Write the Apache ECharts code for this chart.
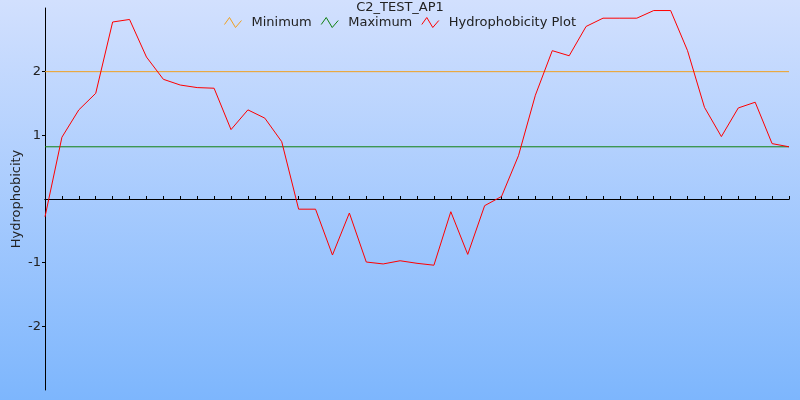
<!DOCTYPE html>
<html>
<head>
<meta charset="utf-8">
<script src="https://cdn.jsdelivr.net/npm/echarts@6/dist/echarts.min.js"></script>
<style>html,body{margin:0;padding:0;}#c{width:800px;height:400px;}</style>
</head>
<body>
<div id="c"></div>
<script>
var titleText = 'C2_TEST_AP1';
var yAxisName = 'Hydrophobicity';
var seriesNames = ['Minimum', 'Maximum', 'Hydrophobicity Plot'];
var seriesColors = ['#f0a020', '#108010', '#ff0000'];
var positions = [];
var hydrophobicity = [-0.28, 0.97, 1.40, 1.66, 2.78, 2.82, 2.23, 1.88, 1.79, 1.75,
  1.74, 1.09, 1.40, 1.27, 0.90, -0.16, -0.16, -0.88, -0.22, -0.99,
  -1.02, -0.97, -1.01, -1.04, -0.20, -0.87, -0.105, 0.04, 0.68, 1.63,
  2.33, 2.25, 2.71, 2.84, 2.84, 2.84, 2.96, 2.96, 2.33, 1.44,
  0.98, 1.43, 1.52, 0.87, 0.82];
for (var i = 0; i < hydrophobicity.length; i++) positions.push(i);
var minimumLevel = 2;
var maximumLevel = 0.82;
var yTickValues = [-2, -1, 1, 2];

var lastX = positions[positions.length - 1];
var font = 'DejaVu Sans';
var zig = 'path://M0,7 L5,0 L11,10 L17,3';
var chart = echarts.init(document.getElementById('c'));
chart.setOption({
  animation: false,
  backgroundColor: {type: 'linear', x: 0, y: 0, x2: 0, y2: 1,
    colorStops: [{offset: 0, color: '#d2e0fe'}, {offset: 1, color: '#7db6fd'}]},
  title: {text: titleText, left: 'center', top: -4,
    textStyle: {fontFamily: font, fontSize: 13, fontWeight: 'normal', color: '#222'}},
  legend: {top: 11, left: 'center', itemWidth: 17, itemHeight: 10, itemGap: 9,
    textStyle: {fontFamily: font, fontSize: 13, color: '#222', padding: [0, 0, 0, 5]},
    data: seriesNames.map(function (n, k) {
      return {name: n, icon: zig,
        itemStyle: {color: 'rgba(0,0,0,0)', borderColor: seriesColors[k], borderWidth: 1}};
    })},
  grid: {left: 45, right: 11, top: 8, bottom: 10, outerBoundsMode: 'none', containLabel: false},
  xAxis: [{type: 'value', min: 0, max: lastX, interval: 1,
    axisLine: {onZero: true, onZeroAxisIndex: 0, lineStyle: {color: '#000', width: 1}},
    axisTick: {show: true, inside: true, length: 3, lineStyle: {color: '#000'}},
    axisLabel: {show: false}, splitLine: {show: false}},
    {type: 'value', min: 0, max: lastX, interval: 1,
    axisLine: {onZero: true, onZeroAxisIndex: 1, lineStyle: {color: '#000', width: 1}},
    axisTick: {show: true, inside: false, length: 3, lineStyle: {color: '#000'}},
    axisLabel: {show: false}, splitLine: {show: false}}],
  yAxis: [{type: 'value', min: -3, max: 3, interval: 1,
    name: yAxisName, nameLocation: 'middle', nameGap: 22, nameMoveOverlap: false,
    nameTextStyle: {fontFamily: font, fontSize: 13, color: '#222'},
    axisLine: {show: true, onZero: false, lineStyle: {color: '#000', width: 1}},
    axisTick: {show: true, length: 3, customValues: yTickValues, lineStyle: {color: '#000'}},
    axisLabel: {margin: 4, customValues: yTickValues, fontFamily: font, fontSize: 13, color: '#222'},
    splitLine: {show: false}},
    {type: 'value', min: -3, max: 3, interval: 1, position: 'right',
    axisLine: {show: false, onZero: false}, axisTick: {show: false}, axisLabel: {show: false},
    splitLine: {show: false}}],
  series: [
    {name: seriesNames[0], type: 'line', symbol: 'none', color: seriesColors[0],
      lineStyle: {width: 1, color: seriesColors[0]},
      data: [[0, minimumLevel], [lastX, minimumLevel]]},
    {name: seriesNames[1], type: 'line', symbol: 'none', color: seriesColors[1],
      lineStyle: {width: 1, color: seriesColors[1]},
      data: [[0, maximumLevel], [lastX, maximumLevel]]},
    {name: seriesNames[2], type: 'line', symbol: 'none', color: seriesColors[2],
      lineStyle: {width: 1, color: seriesColors[2]},
      data: positions.map(function (p, k) { return [p, hydrophobicity[k]]; })}
  ]
});
</script>
</body>
</html>
